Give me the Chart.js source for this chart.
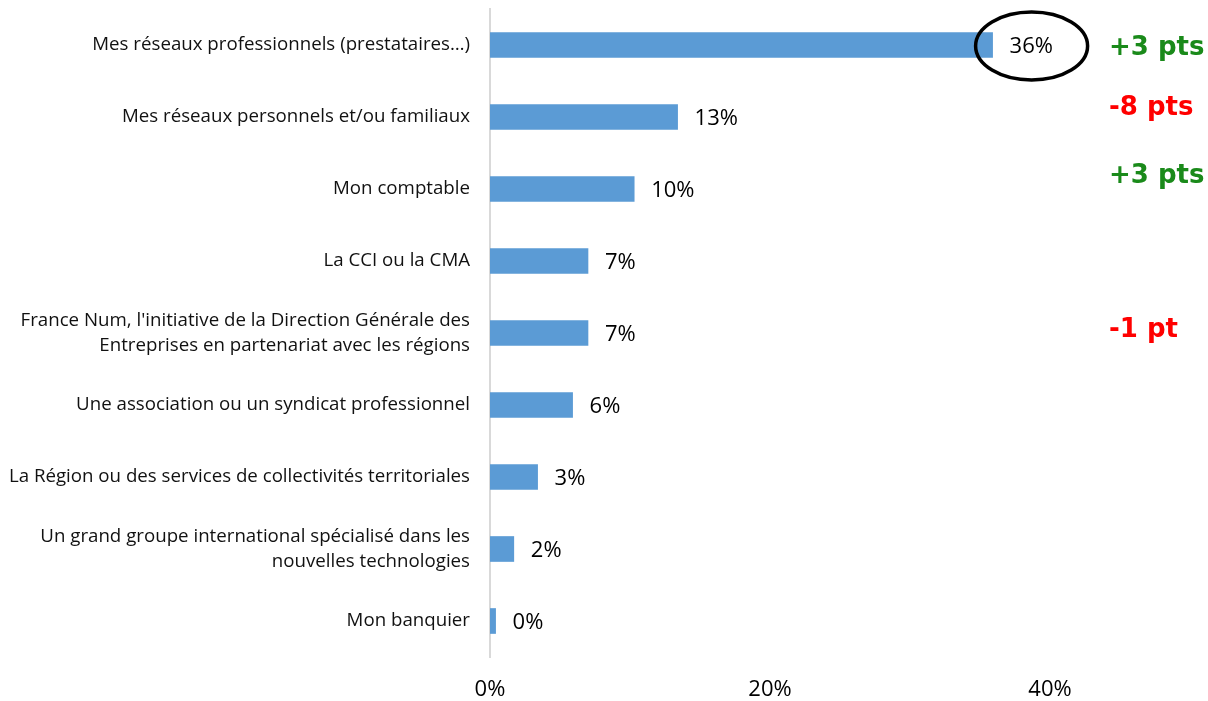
<!DOCTYPE html>
<html>
<head>
<meta charset="utf-8">
<script src="https://cdn.jsdelivr.net/npm/chart.js@4"></script>
<style>
  html, body { margin: 0; padding: 0; background: #fff; }
  #wrap { width: 1208px; height: 701px; position: relative; }
</style>
</head>
<body>
<div id="wrap"><canvas id="chart"></canvas></div>
<script>
// --- Data ---
const categories = [
    'Mes réseaux professionnels (prestataires…)',
    'Mes réseaux personnels et/ou familiaux',
    'Mon comptable',
    'La CCI ou la CMA',
    ['France Num, l\'initiative de la Direction Générale des', 'Entreprises en partenariat avec les régions'],
    'Une association ou un syndicat professionnel',
    'La Région ou des services de collectivités territoriales',
    ['Un grand groupe international spécialisé dans les', 'nouvelles technologies'],
    'Mon banquier'
];
const values = [35.9, 13.4, 10.3, 7.0, 7.0, 5.9, 3.4, 1.7, 0.4];
const valueLabels = ['36%', '13%', '10%', '7%', '7%', '6%', '3%', '2%', '0%'];
const deltas = ['+3 pts', '-8 pts', '+3 pts', '', '-1 pt', '', '', '', ''];
const xTicks = [0, 20, 40];

const GREEN = '#1a8a1a';
const RED = '#ff0000';

// value labels, circled first label, evolution notes on the right
const annotations = {
    id: 'annotations',
    afterDatasetsDraw(chart) {
        const ctx = chart.ctx;
        const meta = chart.getDatasetMeta(0);
        ctx.save();
        ctx.textBaseline = 'middle';
        meta.data.forEach(function (bar, i) {
            ctx.fillStyle = '#000';
            ctx.font = '22px "Open Sans"';
            ctx.textAlign = 'left';
            ctx.fillText(valueLabels[i], bar.x + 17, bar.y + 2);

            if (i === 0) {
                ctx.beginPath();
                ctx.ellipse(bar.x + 39, bar.y + 1, 56, 34, 0, 0, Math.PI * 2);
                ctx.lineWidth = 3.5;
                ctx.strokeStyle = '#000';
                ctx.stroke();
            }

            if (deltas[i]) {
                ctx.font = 'bold 26px "DejaVu Sans"';
                ctx.fillStyle = deltas[i].charAt(0) === '+' ? GREEN : RED;
                const shift = [3, -9, -13, 0, -3, 0, 0, 0, 0][i];
                ctx.fillText(deltas[i], 1109, bar.y + shift);
            }
        });
        ctx.restore();
    }
};

new Chart(document.getElementById('chart'), {
    type: 'bar',
    data: {
        labels: categories,
        datasets: [{
            data: values,
            backgroundColor: '#5b9bd5',
            barThickness: 25
        }]
    },
    options: {
        indexAxis: 'y',
        responsive: true,
        maintainAspectRatio: false,
        animation: false,
        layout: { padding: { top: 9, right: 18, left: 0, bottom: 0 } },
        plugins: {
            legend: { display: false },
            tooltip: { enabled: false }
        },
        scales: {
            x: {
                min: 0,
                max: 50,
                afterFit: function (axis) {
                    axis.height = 44;
                    axis.paddingLeft = 0;
                    axis.paddingRight = 0;
                },
                afterBuildTicks: function (axis) {
                    axis.ticks = xTicks.map(function (v) { return { value: v }; });
                },
                grid: { display: false, drawTicks: false },
                border: { display: false },
                ticks: {
                    padding: 20,
                    color: '#000',
                    font: { family: 'Open Sans', size: 22 },
                    callback: function (v) { return v + '%'; }
                }
            },
            y: {
                afterFit: function (axis) {
                    axis.width = 490;
                    axis.paddingTop = 0;
                    axis.paddingBottom = 0;
                },
                grid: { display: false, drawTicks: false },
                border: { display: true, color: '#d9d9d9', width: 2 },
                ticks: {
                    padding: 20,
                    color: '#111',
                    font: { family: 'Open Sans', size: 18.7, lineHeight: 1.35 }
                }
            }
        }
    },
    plugins: [annotations]
});
</script>
</body>
</html>
